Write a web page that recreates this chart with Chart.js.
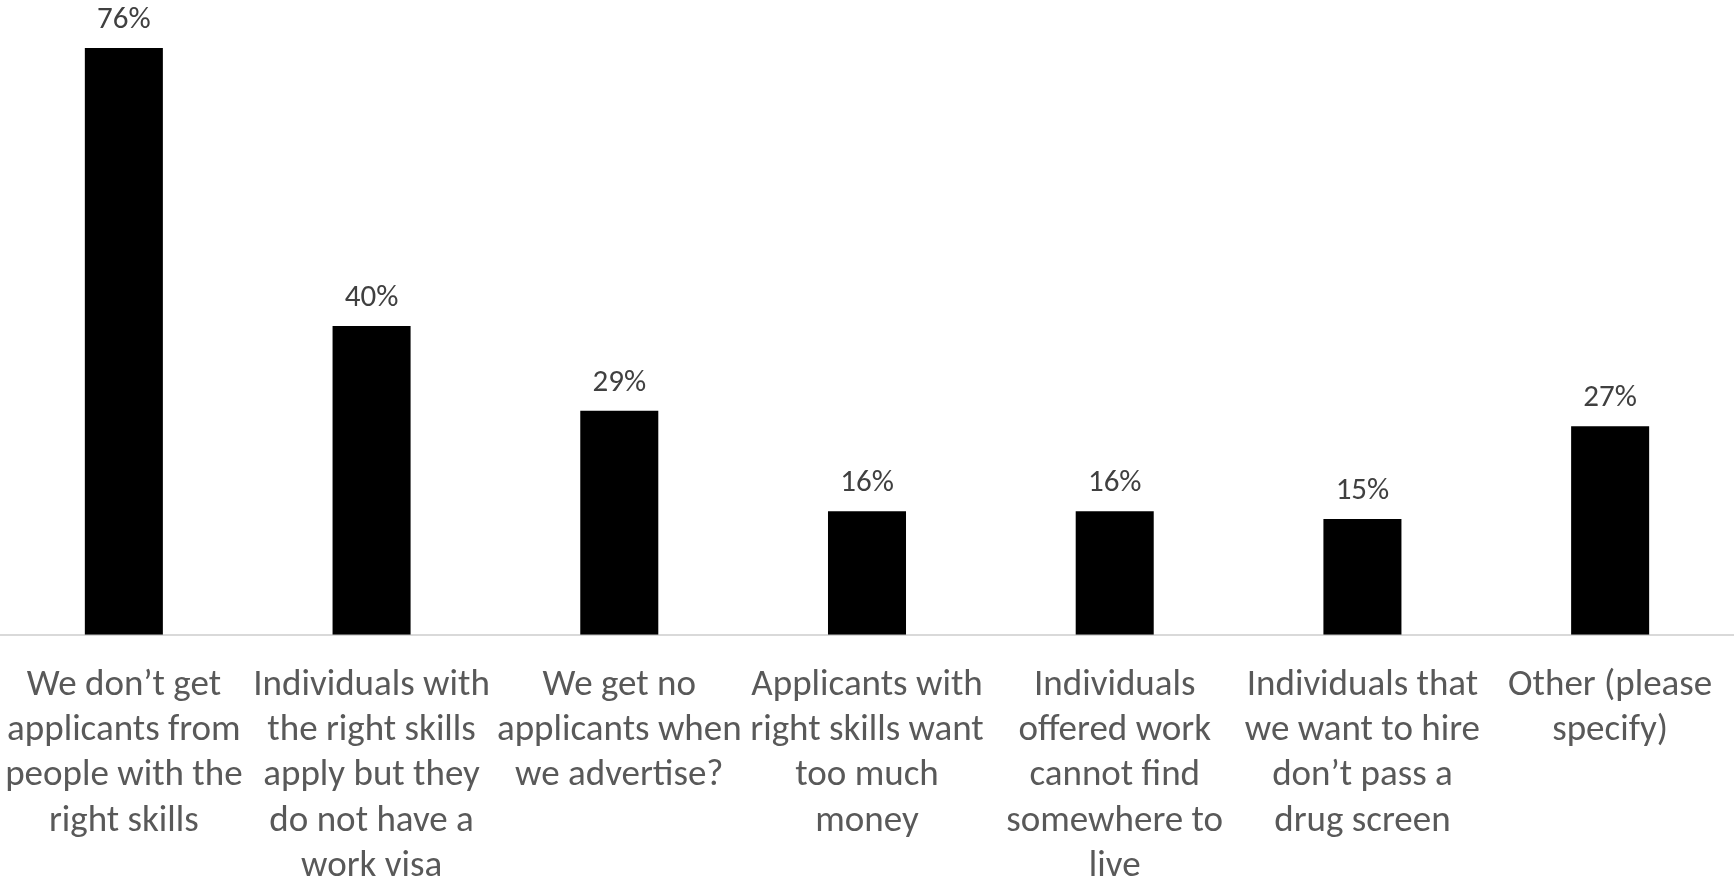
<!DOCTYPE html>
<html>
<head>
<meta charset="utf-8">
<script src="https://cdn.jsdelivr.net/npm/chart.js@4"></script>
<style>
  html, body { margin: 0; padding: 0; background: #fff; }
  #wrap { width: 1734px; height: 880px; }
</style>
</head>
<body>
<div id="wrap"><canvas id="grafico"></canvas></div>
<script>
// ========= Dados =========
const categorias = [
  ["We don\u2019t get", "applicants from", "people with the", "right skills"],
  ["Individuals with", "the right skills", "apply but they", "do not have a", "work visa"],
  ["We get no", "applicants when", "we advertise?"],
  ["Applicants with", "right skills want", "too much", "money"],
  ["Individuals", "offered work", "cannot find", "somewhere to", "live"],
  ["Individuals that", "we want to hire", "don\u2019t pass a", "drug screen"],
  ["Other (please", "specify)"],
];
const valores = [76, 40, 29, 16, 16, 15, 27];
const rotulos = valores.map((v) => `${v}%`);

const fonte = "Calibri, Carlito, Lato, sans-serif";

// ========= Rótulos em cima das barras =========
const rotulosPlugin = {
  id: "rotulos",
  afterDatasetsDraw(chart) {
    const ctx = chart.ctx;
    const meta = chart.getDatasetMeta(0);
    ctx.save();
    ctx.font = `31px ${fonte}`;
    ctx.fillStyle = "#404040";
    ctx.textAlign = "center";
    ctx.textBaseline = "alphabetic";
    meta.data.forEach((bar, i) => {
      ctx.fillText(rotulos[i], bar.x, bar.y - 20);
    });
    ctx.restore();
  },
};

// ========= Gráfico =========
new Chart(document.getElementById("grafico"), {
  type: "bar",
  data: {
    labels: categorias,
    datasets: [{
      data: valores,
      backgroundColor: "#000000",
      borderColor: "#000000",
      borderWidth: 0,
      categoryPercentage: 1,
      barPercentage: 0.315,
    }],
  },
  options: {
    responsive: true,
    maintainAspectRatio: false,
    animation: false,
    layout: { padding: { top: 17, left: 0, right: 0, bottom: -9 } },
    plugins: {
      legend: { display: false },
      tooltip: { enabled: false },
    },
    scales: {
      x: {
        grid: { display: false, drawTicks: true, tickLength: 28.5 },
        border: { display: true, color: "#d9d9d9", width: 2 },
        ticks: {
          color: "#595959",
          font: { family: fonte, size: 37, lineHeight: 1.22 },
          padding: 0,
          maxRotation: 0,
          minRotation: 0,
          autoSkip: false,
        },
      },
      y: {
        display: false,
        min: 0,
        max: 80,
      },
    },
  },
  plugins: [rotulosPlugin],
});
</script>
</body>
</html>
